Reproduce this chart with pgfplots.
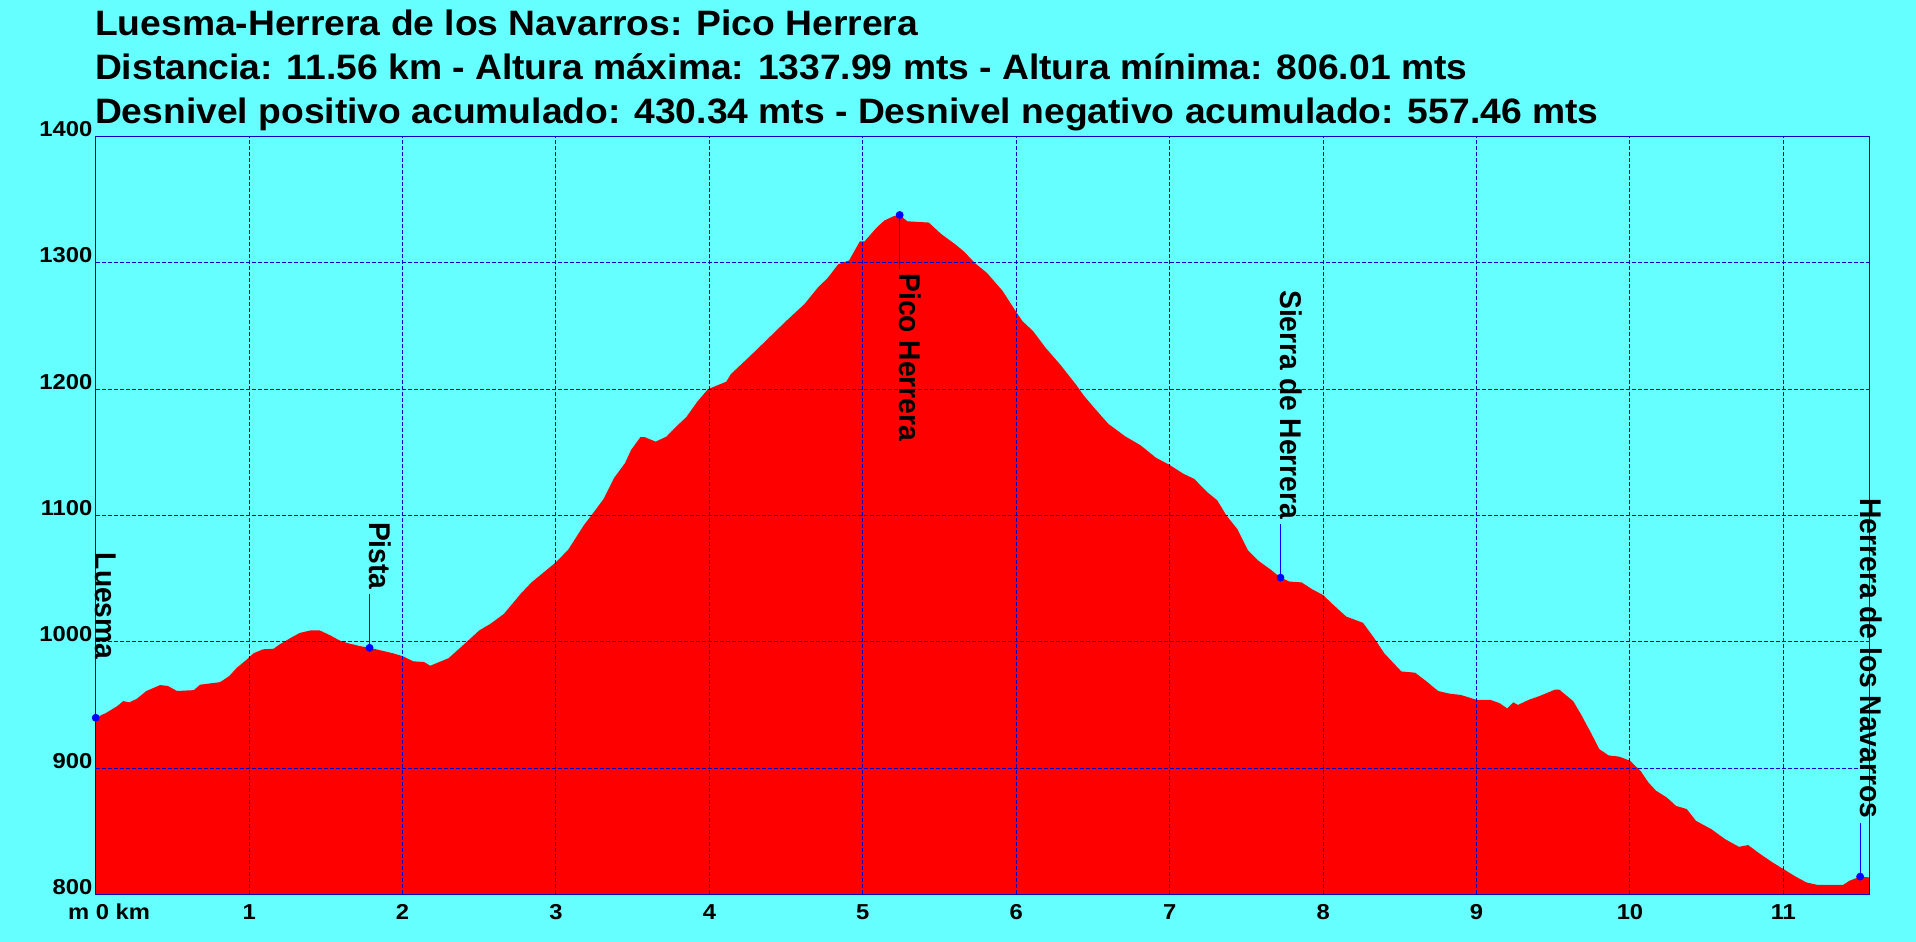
\documentclass[border=0pt]{standalone}
\usepackage{fontspec}
\setmainfont{Liberation Sans}
\newfontfamily\titlefont{Liberation Sans}[FakeStretch=1.055]
\newfontfamily\tickfont{Liberation Sans}[FakeStretch=1.1]
\newfontfamily\labelfont{Liberation Sans}[FakeStretch=0.94]
\usepackage{pgfplots}
\usepackage{pgfplotstable}
\pgfplotsset{compat=1.18}
\definecolor{bg}{RGB}{102,255,255}
\definecolor{frameblue}{RGB}{0,0,200}
\definecolor{markblue}{RGB}{0,0,255}
\definecolor{prof}{RGB}{255,0,0}

\pgfplotstableread{
x y
0 800
0 939.8
0.07 943.8
0.14 949
0.18 953
0.22 952
0.27 955
0.33 961
0.42 965.7
0.47 965
0.53 961
0.64 961.7
0.68 966
0.81 968
0.87 972.8
0.92 979.4
0.985 986
1.03 991
1.09 994
1.16 994.5
1.2 998
1.27 1003
1.33 1007
1.40 1009
1.46 1009
1.53 1005
1.59 1001
1.64 999
1.72 996.6
1.785 995.2
1.85 993.4
1.94 990.8
2.0 988.6
2.07 984.5
2.14 984
2.18 981
2.30 987
2.41 999
2.50 1009
2.57 1014
2.66 1022
2.77 1038
2.84 1047
3.0 1063
3.08 1073
3.18 1092
3.23 1100
3.31 1113
3.38 1130
3.45 1141.5
3.49 1152
3.55 1162
3.58 1162
3.65 1158.5
3.72 1162.5
3.78 1170
3.85 1178
3.92 1190
3.99 1200
4.05 1203
4.11 1206
4.14 1212
4.28 1228
4.39 1241
4.50 1254
4.62 1267.5
4.71 1281
4.77 1288
4.84 1299
4.91 1302
4.98 1317
5.01 1317
5.09 1328
5.14 1333.6
5.20 1337
5.24 1338
5.29 1333
5.43 1332
5.51 1323
5.60 1315
5.66 1309
5.73 1300
5.81 1292
5.91 1278
5.99 1263
6.04 1254
6.11 1246
6.19 1233
6.29 1219
6.39 1203.6
6.44 1195
6.51 1185
6.60 1172.6
6.71 1162.7
6.81 1155.6
6.91 1145.8
7.0 1140
7.09 1133
7.16 1129
7.24 1119
7.31 1112
7.37 1100
7.44 1089.4
7.51 1072.5
7.58 1064
7.66 1057
7.72 1051
7.78 1047.7
7.86 1047
7.93 1041.5
8.0 1037
8.06 1030
8.15 1020
8.26 1015
8.33 1003.4
8.40 990.7
8.51 976.5
8.60 975.5
8.67 969
8.75 961
8.82 959
8.90 957.8
9.0 954
9.09 954
9.15 951.4
9.20 947.2
9.24 952
9.27 950
9.34 954
9.41 957
9.51 962
9.54 962
9.63 953
9.68 942.7
9.75 926.9
9.80 915
9.86 910
9.93 909
10.0 905.8
10.07 897.6
10.12 888.6
10.17 882
10.24 876.7
10.30 870
10.37 867.5
10.43 858.2
10.53 851.6
10.62 843.7
10.71 837.6
10.77 839
10.85 831.8
10.93 825.2
11.0 820
11.08 814
11.15 809.4
11.22 807.5
11.39 807.5
11.43 810.7
11.50 814
11.56 813.4
11.56 800
}\profile

\pgfplotstableread[col sep=comma]{
x,y,e,label
0,939.8,42.77,Luesma
1.785,995.2,42.77,Pista
7.722,1050.8,42.77,Sierra de Herrera
11.50,814,42.77,Herrera de los Navarros
}\uplabels

\pgfplotstableread[col sep=comma]{
x,y,e,label
5.24,1338,42.77,Pico Herrera
}\downlabels

\begin{document}
\begin{tikzpicture}
\fill[bg] (-47.85bp,-23.85bp) rectangle (910.15bp,447.15bp);
\begin{axis}[
  at={(0,0)}, anchor=south west,
  scale only axis, width=886.8bp, height=378.8bp,
  xmin=0, xmax=11.56, ymin=800, ymax=1400,
  xtick={1,2,3,4,5,6,7,8,9,10,11},
  xticklabels={1,2,3,4,5,6,7,8,9,10,11},
  extra x ticks={0}, extra x tick labels={m 0 km},
  extra x tick style={xticklabel style={xshift=6.7bp}},
  ytick={800,900,1000,1100,1200,1300,1400},
  yticklabels={800,900,1000,1100,1200,1300,1400},
  grid=major,
  grid style={frameblue, line width=0.5bp, dash pattern=on 2bp off 1bp},
  axis line style={frameblue, line width=0.5bp},
  major tick length=0pt,
  tick label style={font=\tickfont\bfseries\fontsize{10.8bp}{12bp}\selectfont, text=black},
  yticklabel style={anchor=base east, inner sep=0pt, xshift=-1.5bp},
  xticklabel style={anchor=base, inner sep=0pt, yshift=-12.35bp},
  axis on top, clip=false,
]
\addplot[fill=prof, draw=none] table[x=x, y=y] {\profile};

\addplot[only marks, mark=*, mark size=1.75bp, markblue,
  nodes near coords, point meta=explicit symbolic,
  nodes near coords style={font=\labelfont\bfseries\fontsize{15bp}{17bp}\selectfont,
    text=black, inner sep=0pt, yshift=29bp, rotate=-90, anchor=base east},
  error bars/.cd, y dir=plus, y explicit, error mark=none,
  error bar style={line width=0.5bp, markblue}]
  table[x=x, y=y, y error=e, meta=label] {\uplabels};

\addplot[only marks, mark=*, mark size=1.75bp, markblue,
  nodes near coords, point meta=explicit symbolic,
  nodes near coords style={font=\labelfont\bfseries\fontsize{15bp}{17bp}\selectfont,
    text=black, inner sep=0pt, yshift=-29bp, rotate=-90, anchor=base west},
  error bars/.cd, y dir=minus, y explicit, error mark=none,
  error bar style={line width=0.5bp, markblue}]
  table[x=x, y=y, y error=e, meta=label] {\downlabels};

\node[anchor=base west, inner sep=0pt, font=\titlefont\bfseries\fontsize{17.65bp}{20bp}\selectfont]
  at ([yshift=50.5bp, xshift=-0.5bp]rel axis cs:0,1) {Luesma-Herrera de los Navarros: Pico Herrera};
\node[anchor=base west, inner sep=0pt, font=\titlefont\bfseries\fontsize{17.65bp}{20bp}\selectfont]
  at ([yshift=28.35bp, xshift=-0.5bp]rel axis cs:0,1) {Distancia: 11.56 km - Altura máxima: 1337.99 mts - Altura mínima: 806.01 mts};
\node[anchor=base west, inner sep=0pt, font=\titlefont\bfseries\fontsize{17.65bp}{20bp}\selectfont]
  at ([yshift=6.7bp, xshift=-0.5bp]rel axis cs:0,1) {Desnivel positivo acumulado: 430.34 mts - Desnivel negativo acumulado: 557.46 mts};
\end{axis}
\pgfresetboundingbox
\path[use as bounding box] (-47.85bp,-23.85bp) rectangle (910.15bp,447.15bp);
\end{tikzpicture}
\end{document}
